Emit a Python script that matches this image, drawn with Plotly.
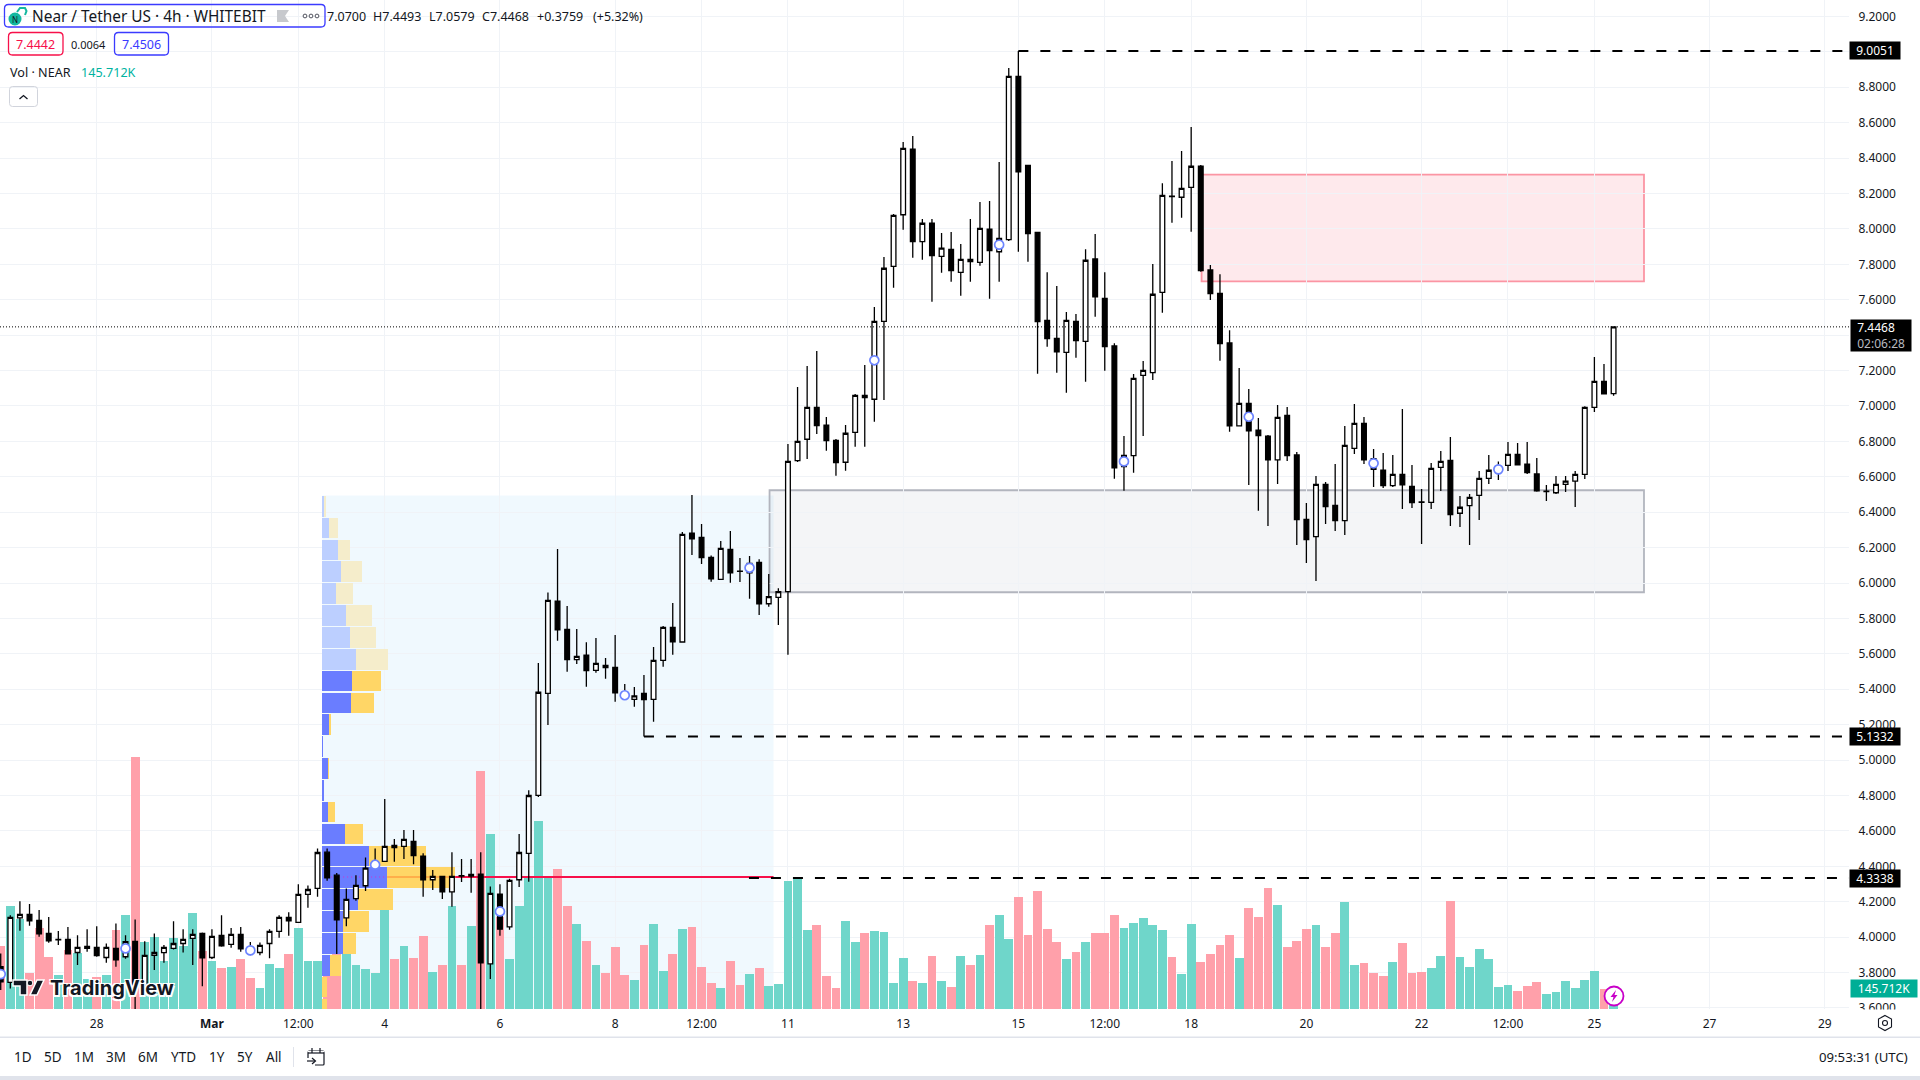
import pandas as pd
import plotly.graph_objects as go

# 4h candles, NEAR/USDT
opens = [3.833,3.744,4.109,4.128,4.094,4.021,3.985,3.987,3.913,3.936,
         3.942,3.885,3.936,3.889,3.976,3.727,3.897,3.912,3.936,3.964,
         3.993,4.021,3.885,4.010,3.959,4.015,3.936,3.913,3.964,4.032,
         4.111,4.083,4.241,4.275,4.480,4.350,4.109,4.217,4.290,4.394,
         4.428,4.518,4.512,4.541,4.458,4.324,4.343,4.256,4.347,4.345,
         4.356,3.849,4.243,4.058,4.324,4.473,4.801,5.377,5.897,5.738,
         5.567,5.592,5.507,5.535,5.524,5.383,5.343,5.377,5.343,5.563,
         5.750,5.667,6.281,6.258,6.145,6.021,6.190,6.067,6.058,6.117,
         5.883,5.919,5.951,6.691,6.812,6.992,6.891,6.806,6.682,6.851,
         7.060,7.038,7.478,7.789,8.080,8.450,7.928,8.032,7.845,7.885,
         7.755,7.828,7.811,7.999,7.871,7.939,8.862,8.359,7.981,7.484,
         7.382,7.303,7.478,7.365,7.830,7.608,7.339,6.657,6.719,7.173,
         7.188,7.642,8.185,8.179,8.235,8.355,7.768,7.636,7.356,6.888,
         7.015,6.863,6.830,6.696,6.947,6.723,6.360,6.262,6.557,6.439,
         6.352,6.761,6.902,6.702,6.637,6.550,6.614,6.546,6.458,6.456,
         6.653,6.693,6.394,6.437,6.495,6.591,6.629,6.665,6.727,6.672,
         6.616,6.517,6.510,6.557,6.575,6.614,6.992,7.139,7.0700]
highs = [3.908,4.124,4.203,4.187,4.153,4.113,4.034,4.057,4.011,4.045,
         4.062,3.964,4.077,4.011,4.100,3.976,4.021,3.955,4.090,4.045,
         4.045,4.026,4.045,4.124,4.051,4.057,3.972,3.970,4.045,4.124,
         4.141,4.299,4.292,4.501,4.501,4.362,4.275,4.350,4.450,4.501,
         4.780,4.554,4.605,4.605,4.473,4.379,4.343,4.480,4.441,4.441,
         4.480,4.286,4.299,4.330,4.582,4.830,5.548,5.947,6.192,5.870,
         5.740,5.665,5.689,5.576,5.706,5.429,5.413,5.480,5.638,5.757,
         5.887,6.288,6.497,6.333,6.156,6.237,6.294,6.141,6.152,6.134,
         6.051,5.970,6.785,7.107,7.226,7.310,6.938,6.813,6.892,7.068,
         7.231,7.559,7.841,8.084,8.491,8.525,8.056,8.056,7.977,7.983,
         7.915,8.056,8.152,8.158,8.378,8.909,9.0051,8.361,7.983,7.755,
         7.678,7.531,7.519,7.885,7.971,7.755,7.354,6.830,7.181,7.254,
         7.802,8.258,8.384,8.440,8.576,8.361,7.796,7.744,7.427,7.214,
         7.096,6.932,6.836,7.005,6.994,6.740,6.452,6.604,6.570,6.672,
         6.887,7.011,6.938,6.757,6.734,6.723,6.983,6.666,6.531,6.678,
         6.746,6.825,6.491,6.503,6.633,6.723,6.687,6.796,6.791,6.796,
         6.706,6.553,6.604,6.604,6.633,6.999,7.277,7.237,7.4493]
lows = [3.701,3.710,4.036,4.064,4.002,3.968,3.955,3.904,3.842,3.917,
        3.889,3.855,3.832,3.878,3.593,3.720,3.814,3.855,3.930,3.913,
        3.842,3.723,3.876,3.946,3.940,3.917,3.898,3.898,3.881,3.996,
        4.008,4.083,4.166,4.228,4.318,3.904,4.062,4.205,4.260,4.382,
        4.428,4.426,4.441,4.412,4.228,4.266,4.215,4.171,4.311,4.251,
        3.593,3.763,4.008,4.042,4.283,4.313,4.791,5.198,5.674,5.499,
        5.543,5.414,5.493,5.459,5.329,5.339,5.301,5.1332,5.217,5.527,
        5.595,5.663,6.158,6.107,6.007,6.021,6.002,6.006,5.911,5.819,
        5.866,5.763,5.595,6.683,6.700,6.842,6.747,6.606,6.634,6.770,
        6.770,6.911,7.034,7.668,7.996,7.837,7.826,7.589,7.753,7.702,
        7.623,7.702,7.792,7.606,7.702,7.932,7.871,7.815,7.182,7.335,
        7.188,7.075,7.273,7.137,7.504,7.199,6.589,6.521,6.623,6.830,
        7.147,7.527,8.035,8.063,7.984,7.758,7.599,7.256,6.855,6.888,
        6.554,6.408,6.322,6.559,6.689,6.215,6.113,6.011,6.333,6.294,
        6.271,6.729,6.672,6.542,6.537,6.542,6.418,6.424,6.220,6.418,
        6.520,6.322,6.316,6.215,6.356,6.559,6.582,6.633,6.668,6.616,
        6.516,6.463,6.503,6.514,6.429,6.587,6.966,7.069,7.0579]
closes = [3.748,4.111,4.128,4.092,4.019,3.979,3.987,3.906,3.942,3.947,
          3.895,3.942,3.872,3.974,3.729,3.897,3.913,3.942,3.964,3.987,
          4.015,3.883,4.004,3.951,4.015,3.934,3.915,3.953,4.032,4.111,
          4.092,4.241,4.269,4.478,4.335,4.098,4.213,4.292,4.390,4.422,
          4.512,4.505,4.552,4.460,4.324,4.343,4.256,4.343,4.345,4.354,
          3.855,4.247,4.045,4.320,4.478,4.800,5.383,5.902,5.736,5.567,
          5.586,5.505,5.546,5.522,5.380,5.349,5.363,5.341,5.563,5.750,
          5.668,6.275,6.250,6.143,6.024,6.196,6.058,6.066,6.111,5.883,
          5.923,5.951,6.687,6.800,6.992,6.889,6.804,6.680,6.846,7.060,
          7.047,7.478,7.778,8.077,8.455,7.928,8.032,7.849,7.891,7.764,
          7.828,7.815,8.003,7.877,7.947,8.862,8.323,7.973,7.476,7.380,
          7.306,7.484,7.369,7.823,7.617,7.335,6.651,6.721,7.156,7.201,
          7.631,8.190,8.183,8.229,8.354,7.764,7.634,7.352,6.888,7.015,
          6.860,6.832,6.696,6.936,6.719,6.358,6.245,6.557,6.431,6.352,
          6.778,6.902,6.696,6.642,6.550,6.614,6.555,6.454,6.456,6.648,
          6.687,6.386,6.428,6.484,6.591,6.637,6.655,6.727,6.668,6.623,
          6.521,6.519,6.557,6.575,6.614,6.992,7.139,7.069,7.4468]
# volume in thousands of NEAR
volumes = [443,721,630,252,567,364,238,413,394,210,
           224,238,553,658,1764,469,504,336,497,441,
           672,406,336,287,294,350,217,147,315,287,
           385,567,336,336,238,518,530,308,280,252,
           756,350,441,357,511,259,308,721,308,581,
           1663,1225,646,350,721,917,1316,917,980,721,
           595,476,308,252,434,238,203,448,595,266,
           385,560,574,294,182,147,336,168,245,287,
           161,175,896,910,553,588,231,147,616,469,
           532,546,539,182,357,196,182,371,196,154,
           371,308,378,588,658,490,784,518,826,560,
           469,350,399,469,532,532,658,567,602,637,
           588,553,364,245,595,329,385,448,518,357,
           707,644,847,728,434,476,560,588,434,532,
           749,308,322,252,231,329,462,252,259,287,
           371,756,364,294,420,350,154,168,126,161,
           189,105,119,196,147,203,266,140,145.712]

# fixed range volume profile
profile_prices = [6.434,6.311,6.187,6.064,5.940,5.817,5.693,5.570,5.446,5.323,5.199,5.076,
                  4.953,4.829,4.706,4.582,4.459,4.335,4.212,4.088,3.965,3.841,3.718,3.594]
profile_up = [2,7,16,19,14,24,28,34,30,29,7,1,6,2,6,23,47,65,36,21,21,8,0,0]
profile_down = [2,9,12,21,17,26,26,32,29,23,2,0,1,0,7,18,57,68,35,26,13,11,5,5]
value_area = [False]*8 + [True]*16

# event markers every 13th bar
event_bars = [0,13,26,39,52,65,78,91,104,117,130,143,156]
event_prices = [3.791,3.936,3.925,4.409,4.145,5.366,6.086,7.258,7.911,6.687,6.939,6.676,6.642]

levels = [9.0051, 5.1332, 4.3338]
level_starts = ["2024-03-15 00:00", "2024-03-08 12:00", "2024-03-10 07:45"]
last_price = 7.4468
poc_price = 4.339

tick_dates = ["2024-02-28","2024-03-01","2024-03-02 12:00","2024-03-04","2024-03-06","2024-03-08",
              "2024-03-09 12:00","2024-03-11","2024-03-13","2024-03-15","2024-03-16 12:00","2024-03-18",
              "2024-03-20","2024-03-22","2024-03-23 12:00","2024-03-25","2024-03-27","2024-03-29"]
tick_text = ["28","<b>Mar</b>","12:00","4","6","8","12:00","11","13","15","12:00","18",
             "20","22","12:00","25","27","29"]
price_ticks = [3.6,3.8,4.0,4.2,4.4,4.6,4.8,5.0,5.2,5.4,5.6,5.8,6.0,6.2,6.4,6.6,6.8,7.0,7.2,
               7.4,7.6,7.8,8.0,8.2,8.4,8.6,8.8,9.0,9.2]
# these two sit fully behind the price tags in the reference
price_tick_text = ["" if v in (7.4, 9.0) else f"{v:.4f}" for v in price_ticks]

times = pd.date_range("2024-02-26 08:00", periods=len(closes), freq="4h")

FONT = "Noto Sans"
INK = "#131722"
GRID = "#f0f3f7"
PLOT_W = 1849
PLOT_H = 1009
X_RANGE = ["2024-02-26 07:42", "2024-03-29 10:05"]
Y_RANGE = [3.594, 9.293]
FOUR_HOURS = 4 * 3600 * 1000

fig = go.Figure()

# volume sits at the bottom of the stack
vol_colors = ["#6fd6ca" if c >= o else "#ffa0aa" for o, c in zip(opens, closes)]
fig.add_trace(go.Bar(x=times, y=volumes, width=FOUR_HOURS * 0.92, marker=dict(color=vol_colors, line_width=0),
                     xaxis="x", yaxis="y"))

up_colors = ["#6a7dff" if v else "#bccfff" for v in value_area]
down_colors = ["#ffd666" if v else "#f5edcb" for v in value_area]
fig.add_trace(go.Bar(y=profile_prices, x=profile_up, orientation="h", width=0.117,
                     marker=dict(color=up_colors, line_width=0), xaxis="x2", yaxis="y2"))
fig.add_trace(go.Bar(y=profile_prices, x=profile_down, orientation="h", width=0.117,
                     marker=dict(color=down_colors, line_width=0), xaxis="x2", yaxis="y2"))

# point of control
fig.add_trace(go.Scatter(x=["2024-03-03 01:40", "2024-03-04 01:00"], y=[poc_price, poc_price], mode="lines",
                         line=dict(color="#b04adf", width=1.5, dash="1px,3px"), xaxis="x3", yaxis="y2"))
fig.add_trace(go.Scatter(x=["2024-03-04 01:00", "2024-03-05 05:20"], y=[poc_price, poc_price], mode="lines",
                         line=dict(color="#ffae4a", width=2), xaxis="x3", yaxis="y2"))
fig.add_trace(go.Scatter(x=["2024-03-05 05:20", "2024-03-10 18:00"], y=[poc_price, poc_price], mode="lines",
                         line=dict(color="#f7104a", width=2), xaxis="x3", yaxis="y2"))

for level, start in zip(levels, level_starts):
    fig.add_trace(go.Scatter(x=[start, X_RANGE[1]], y=[level, level], mode="lines",
                             line=dict(color="black", width=2, dash="10px,12px"), xaxis="x3", yaxis="y2"))

fig.add_trace(go.Candlestick(x=times, open=opens, high=highs, low=lows, close=closes, whiskerwidth=0,
                             increasing=dict(line=dict(color="black", width=1.3), fillcolor="white"),
                             decreasing=dict(line=dict(color="black", width=1.3), fillcolor="black"),
                             xaxis="x4", yaxis="y2"))

fig.add_trace(go.Scatter(x=[times[i] for i in event_bars], y=event_prices, mode="markers",
                         marker=dict(symbol="circle", size=9, color="white", line=dict(color="#6c84ff", width=1.7)),
                         xaxis="x4", yaxis="y2"))


def px(x):
    return x / PLOT_W


def py(y):
    return 1 - y / PLOT_H


def label(x, y, text, size=12, color=INK, anchor="left", **kw):
    fig.add_annotation(xref="paper", yref="paper", x=px(x), y=py(y), text=text, showarrow=False,
                       xanchor=anchor, yanchor="middle", borderpad=0,
                       font=dict(family=FONT, size=size, color=color), **kw)


def path(points, close=False, **kw):
    d = "M" + " L".join(f"{px(x):.5f},{py(y):.5f}" for x, y in points) + (" Z" if close else "")
    fig.add_shape(type="path", xref="paper", yref="paper", path=d, layer="above", **kw)


def round_box(x0, y0, x1, y1, r, color, width=1.3, fill="rgba(0,0,0,0)"):
    c = lambda x, y: f"{px(x):.5f},{py(y):.5f}"
    d = (f"M{c(x0 + r, y0)} L{c(x1 - r, y0)} Q{c(x1, y0)} {c(x1, y0 + r)} L{c(x1, y1 - r)} Q{c(x1, y1)} {c(x1 - r, y1)} "
         f"L{c(x0 + r, y1)} Q{c(x0, y1)} {c(x0, y1 - r)} L{c(x0, y0 + r)} Q{c(x0, y0)} {c(x0 + r, y0)} Z")
    fig.add_shape(type="path", xref="paper", yref="paper", path=d, layer="above",
                  line=dict(color=color, width=width), fillcolor=fill)


def disc(cx, cy, r, color="rgba(0,0,0,0)", line=None, width=1):
    fig.add_shape(type="circle", xref="paper", yref="paper", layer="above",
                  x0=px(cx - r), x1=px(cx + r), y0=py(cy + r), y1=py(cy - r), fillcolor=color,
                  line=dict(color=line or "rgba(0,0,0,0)", width=width))


def box(x0, y0, x1, y1, color):
    fig.add_shape(type="rect", xref="paper", yref="paper", layer="above", x0=px(x0), x1=px(x1),
                  y0=py(y1), y1=py(y0), fillcolor=color, line_width=0)


# zones under the bars, see-through so the grid still shows
fig.add_shape(type="rect", xref="x3", yref="y2", layer="below", x0="2024-03-02 22:00", x1="2024-03-10 18:00",
              y0=3.594, y1=6.494, fillcolor="rgba(33,170,243,0.065)", line_width=0)
fig.add_shape(type="rect", xref="x3", yref="y2", layer="below", x0="2024-03-10 16:20", x1="2024-03-25 20:40",
              y0=5.948, y1=6.524, fillcolor="rgba(120,123,150,0.08)", line=dict(color="#b2b5be", width=1.8))
fig.add_shape(type="rect", xref="x3", yref="y2", layer="below", x0="2024-03-18 04:20", x1="2024-03-25 20:40",
              y0=7.704, y1=8.307, fillcolor="rgba(247,82,110,0.13)", line=dict(color="#fb95a3", width=1.8))
fig.add_shape(type="line", xref="paper", yref="y2", x0=0, x1=1, y0=last_price, y1=last_price, layer="above",
              line=dict(color="black", width=1, dash="1px,2px"))

# bottom chrome
box(1849, 1009.5, 1920, 1037, "white")
box(0, 1036.5, 1920, 1038, "#e0e3eb")
box(0, 1076, 1920, 1080, "#e0e3eb")
box(293, 1047, 294, 1067, "#e0e3eb")

# TradingView watermark
path([(13, 980), (27, 980), (27, 995), (20, 995), (20, 986), (13, 986)], close=True, fillcolor=INK, line=dict(color="white", width=1.5))
disc(30, 983, 2.8, INK, "white", 1)
path([(37, 980), (44, 980), (37, 995), (30, 995)], close=True, fillcolor=INK, line=dict(color="white", width=1.5))
halo = "1.5px 1.5px 0 #fff,-1.5px 1.5px 0 #fff,1.5px -1.5px 0 #fff,-1.5px -1.5px 0 #fff"
fig.add_annotation(xref="paper", yref="paper", x=px(48), y=py(988), text="<b>TradingView</b>", showarrow=False,
                   xanchor="left", yanchor="middle", font=dict(family="Inter", size=20, color=INK, shadow=halo))

# legend block
round_box(4.5, 4.5, 325, 27, 4, "#3b3bff")
disc(15, 19, 6.5, "#14b8a0")
path([(17, 12), (20, 8), (25, 8), (26.5, 11), (25, 15)], line=dict(color="#14b8a0", width=2))
label(15, 19.5, "N", size=8, color=INK, anchor="center")
label(31, 16, "Near / Tether US · 4h · WHITEBIT", size=15.4)
path([(277, 10), (289, 10), (285, 16), (289, 22), (277, 22)], close=True, fillcolor="#c7c9cd", line_width=0)
for cx in (305, 311, 317):
    disc(cx, 16, 1.9, "white", "#50535e", 1)
label(325.5, 16, "7.0700", size=12.5)
label(372, 16, "H7.4493", size=12.5)
label(428, 16, "L7.0579", size=12.5)
label(481, 16, "C7.4468", size=12.5)
label(536, 16, "+0.3759", size=12.5)
label(592, 16, "(+5.32%)", size=12.5)

round_box(8.5, 32.5, 63, 55, 4, "#f7104a")
label(35.7, 44.5, "7.4442", size=12.5, color="#f7104a", anchor="center")
label(88.5, 44, "0.0064", size=11, anchor="center")
round_box(114.5, 32.5, 168.5, 55, 4, "#3b3bff")
label(141.5, 44.5, "7.4506", size=12.5, color="#3b3bff", anchor="center")
label(9, 72.5, "Vol · NEAR", size=12.6)
label(80, 72.5, "145.712K", size=12.6, color="#00b39f")
round_box(9.5, 86.5, 37.5, 106.5, 3, "#d1d4dc", width=1)
path([(19.5, 99), (23.5, 95.5), (27.5, 99)], line=dict(color=INK, width=1.3))

# time range toolbar
for text, cx in zip(["1D","5D","1M","3M","6M","YTD","1Y","5Y","All"], [23, 52.6, 84, 116, 148, 183, 217, 245, 274]):
    label(cx, 1057, text, size=13.5, anchor="center")
label(1909, 1057, "09:53:31 (UTC)", size=13.2, anchor="right")
round_box(308, 1051, 324, 1065, 1, INK, width=1.2)
box(307.5, 1051, 324.5, 1052.2, "white")
path([(308, 1053), (324, 1053)], line=dict(color=INK, width=1.2))
path([(312, 1048), (312, 1053)], line=dict(color=INK, width=1.2))
path([(320, 1048), (320, 1053)], line=dict(color=INK, width=1.2))
box(306, 1058, 315, 1066, "white")
path([(307, 1061), (315, 1061)], line=dict(color=INK, width=1.2))
path([(312, 1058), (315.5, 1061), (312, 1064)], line=dict(color=INK, width=1.2))

# settings hexagon
path([(1885, 1015.5), (1891.5, 1019), (1891.5, 1027), (1885, 1030.5), (1878.5, 1027), (1878.5, 1019)], close=True,
     line=dict(color=INK, width=1.1))
disc(1885, 1023, 2.5, line=INK, width=1.1)

# lightning badge
disc(1614, 996, 9.5, "white", "#c800c8", 1.8)
path([(1616, 990), (1610.5, 997), (1613.5, 997), (1612, 1002), (1617.5, 995), (1614.5, 995)], close=True,
     fillcolor="#c800c8", line_width=0)


def price_tag(price, text):
    fig.add_annotation(xref="paper", yref="y2", x=1, y=price, text=text, showarrow=False, xanchor="left",
                       yanchor="middle", width=50, height=17, bgcolor="black", borderpad=0, align="center",
                       font=dict(family=FONT, size=12, color="white"))


for level in levels:
    price_tag(level, f"{level:.4f}")

fig.add_annotation(xref="paper", yref="paper", x=px(1850), y=py(319), text="&nbsp;&nbsp;7.4468<br>&nbsp;&nbsp;<span style='color:#b8bac0'>02:06:28</span>",
                   showarrow=False, xanchor="left", yanchor="top", width=60, height=31, bgcolor="black", borderpad=0,
                   align="left", font=dict(family=FONT, size=12, color="white"))
fig.add_annotation(xref="paper", yref="paper", x=px(1850), y=py(988.5), text="145.712K", showarrow=False, xanchor="left",
                   yanchor="middle", width=66, height=17, bgcolor="#00ae96", borderpad=0,
                   font=dict(family=FONT, size=12, color="white"))

hidden_date = dict(overlaying="x", type="date", range=X_RANGE, visible=False, anchor="y2", rangeslider=dict(visible=False))

fig.update_layout(
    width=1920, height=1080,
    margin=dict(l=0, r=71, t=0, b=71),
    paper_bgcolor="white", plot_bgcolor="white",
    showlegend=False, hovermode=False, barmode="stack",
    xaxis=dict(type="date", range=X_RANGE, tickmode="array", tickvals=tick_dates, ticktext=tick_text,
               showgrid=True, gridcolor=GRID, gridwidth=1, zeroline=False, showline=False,
               ticks="outside", ticklen=4, tickcolor="rgba(0,0,0,0)", tickangle=0,
               tickfont=dict(family=FONT, size=12, color=INK), rangeslider=dict(visible=False)),
    xaxis2=dict(overlaying="x", range=[-322, PLOT_W - 322], visible=False, anchor="y2"),
    xaxis3=hidden_date,
    xaxis4=hidden_date,
    yaxis=dict(range=[0, 7063], visible=False),
    yaxis2=dict(overlaying="y", side="right", range=Y_RANGE, tickmode="array", tickvals=price_ticks,
                ticktext=price_tick_text, showgrid=True, gridcolor=GRID, gridwidth=1, zeroline=False, showline=False,
                ticks="outside", ticklen=6, tickcolor="rgba(0,0,0,0)",
                tickfont=dict(family=FONT, size=12, color=INK)),
)

fig.write_html("out.html", config=dict(displayModeBar=False),
               post_script="document.body.style.margin='0';document.body.style.overflow='hidden';")
